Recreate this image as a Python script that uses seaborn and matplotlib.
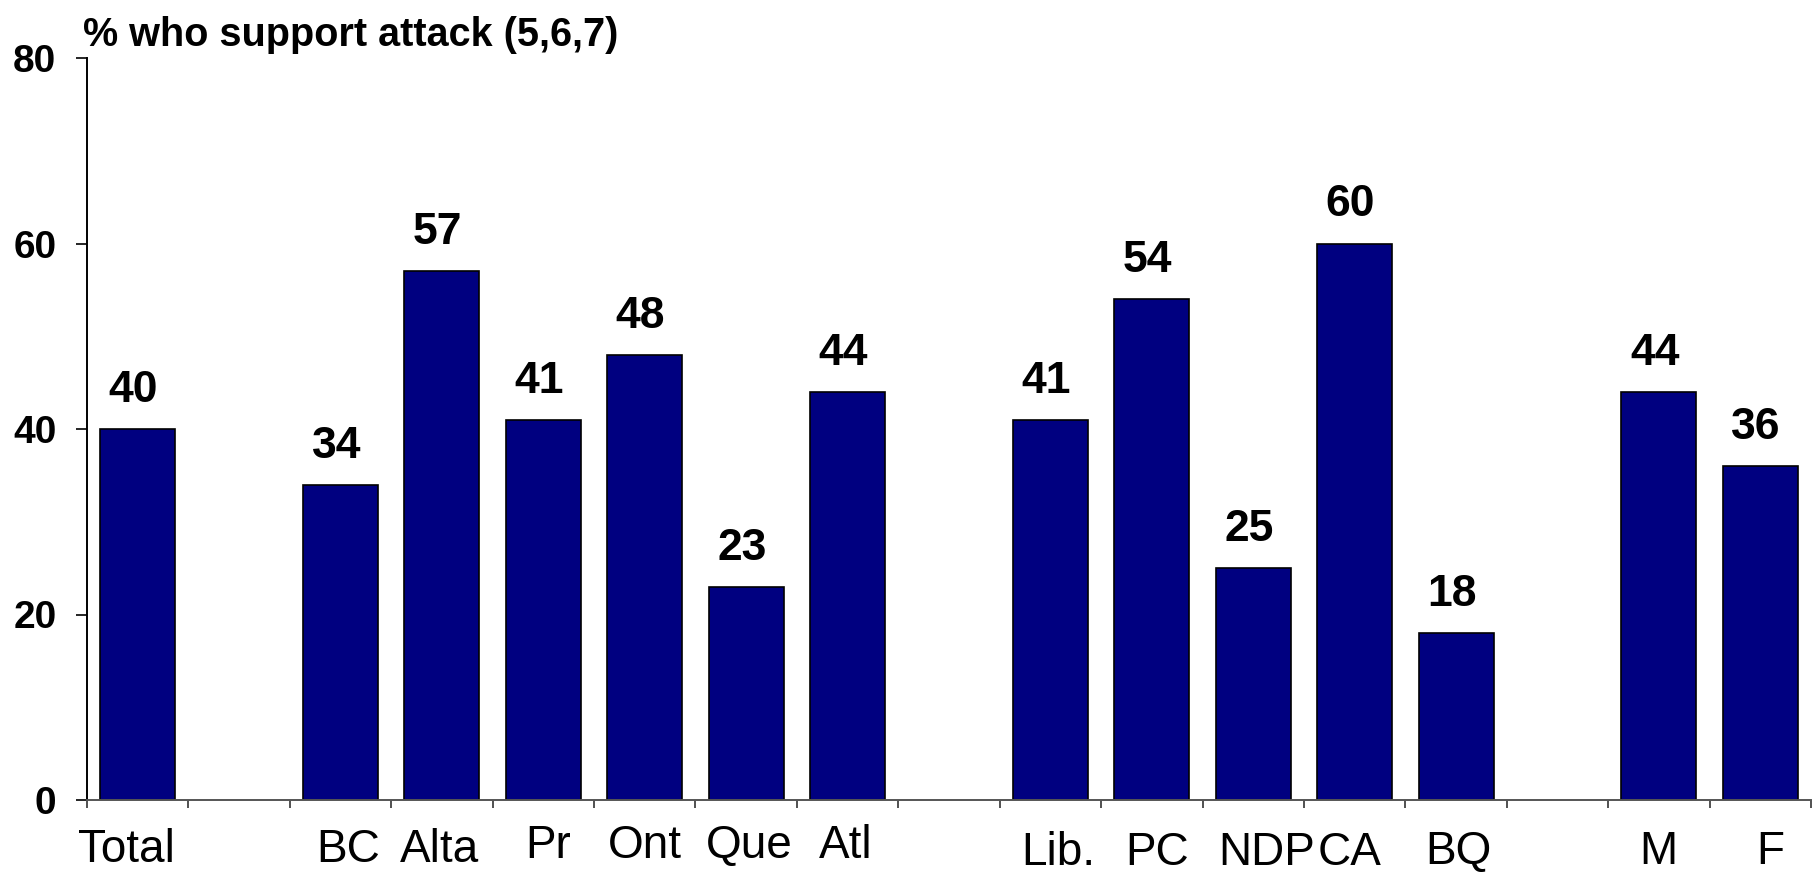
import matplotlib
matplotlib.use("Agg")
import pandas as pd
import matplotlib.pyplot as plt
import seaborn as sns

# Datos del grafico
groups = ["Total", "BC", "Alta", "Pr", "Ont", "Que", "Atl",
          "Lib.", "PC", "NDP", "CA", "BQ", "M", "F"]
support = [40, 34, 57, 41, 48, 23, 44, 41, 54, 25, 60, 18, 44, 36]
# huecos vacios entre bloques de barras
slots = ["Total", "gap1", "BC", "Alta", "Pr", "Ont", "Que", "Atl", "gap2",
         "Lib.", "PC", "NDP", "CA", "BQ", "gap3", "M", "F"]
y_ticks = [0, 20, 40, 60, 80]
title = "% who support attack (5,6,7)"

# pequeños desplazamientos de las etiquetas (px), como en el original
label_dx = [-11, 8, -2, 5, 0, 3, -2, 8, 5, 13, -5, 2, -1, 10]
label_dy = [0, 0, 0, -4, -4, -4, -4, 3, 3, 3, 3, 2, 2, 2]

sns.set_style("ticks")
plt.rcParams["font.family"] = ["Liberation Sans", "DejaVu Sans"]
plt.rcParams["text.color"] = "black"
plt.rcParams["xtick.color"] = "black"
plt.rcParams["ytick.color"] = "black"

df = pd.DataFrame({"group": groups, "support": support})

fig = plt.figure(figsize=(18.14, 8.75), dpi=100)
ax = fig.add_axes([87 / 1814, 1 - 800 / 875, (1811 - 87) / 1814, (800 - 58) / 875])

sns.barplot(data=df, x="group", y="support", order=slots, color="#000080",
            saturation=1, width=0.74, edgecolor="black", linewidth=1.2, ax=ax)
for bar in ax.patches:
    bar.set_facecolor("#000080")

ax.set_xlim(-0.5, len(slots) - 0.5)
ax.set_ylim(0, 80)
ax.set_yticks(y_ticks)
ax.set_yticklabels([str(v) for v in y_ticks], fontsize=28, fontweight="bold")
ax.tick_params(axis="y", direction="out", length=8, width=1.2, pad=14)

# marcas del eje x entre categorias, sin texto
ax.set_xticks([i - 0.5 for i in range(len(slots) + 1)])
ax.set_xticklabels([])
ax.tick_params(axis="x", direction="out", length=6, width=1.2, colors="#333333")
ax.set_xlabel("")
ax.set_ylabel("")
sns.despine(ax=ax)
ax.spines["left"].set_linewidth(1.4)
ax.spines["left"].set_color("black")
ax.spines["bottom"].set_linewidth(1.4)
ax.spines["bottom"].set_color("#555555")

for g, v, dx, dy in zip(groups, support, label_dx, label_dy):
    i = slots.index(g)
    # valor encima de la barra
    ax.annotate(str(v), xy=(i, v), xytext=(-3, 13), textcoords="offset points",
                ha="center", va="bottom", fontsize=32, fontweight="bold")
    # etiqueta de la categoria
    ax.annotate(g, xy=(i, 0), xycoords=("data", "axes fraction"),
                xytext=(dx * 0.72, -(28 + dy) * 0.72), textcoords="offset points",
                ha="center", va="top", fontsize=33)

fig.text(83 / 1814, 1 - 46 / 875, title, ha="left", va="baseline",
         fontsize=28.5, fontweight="bold")

fig.savefig("out.png", dpi=100)
